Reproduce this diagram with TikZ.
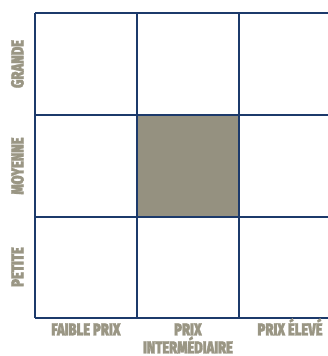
\documentclass[tikz,border=0pt]{standalone}
\usepackage{fontspec}
\newfontfamily\labfont{Fira Sans Black}[FakeStretch=0.74,FakeBold=1.5]
\definecolor{gridblue}{HTML}{1C3A6B}
\definecolor{cellgray}{HTML}{959180}
\definecolor{labgray}{HTML}{9A9684}
\begin{document}
\begin{tikzpicture}[x=1pt,y=1pt,
  gridline/.style={draw=gridblue,line width=1.3pt},
  lab/.style={text=labgray,font=\labfont\fontsize{17.5}{17.5}\selectfont,inner sep=0pt,anchor=base}]
\useasboundingbox (0,0) rectangle (328,356);
\fill[cellgray] (137,241) rectangle (239,139);
% horizontal lines
\foreach \y in {343,241,139,38} \draw[gridline] (35,\y) -- (328,\y);
% vertical lines
\foreach \x in {35,137,239} \draw[gridline] (\x,343) -- (\x,38);
% row labels
\node[lab,rotate=90] (grande) at (23.5,292) {GRANDE};
\node[lab,rotate=90] (moyenne) at (23.5,190) {MOYENNE};
\node[lab,rotate=90] (petite) at (23.5,89) {PETITE};
% column labels
\node[lab] (faible) at (86,20.5) {FAIBLE PRIX};
\node[lab] (prix) at (188,20.5) {PRIX};
\node[lab] (inter) at (188,2.5) {INTERMÉDIAIRE};
\node[lab] (eleve) at (290,20.5) {PRIX ÉLEVÉ};
\end{tikzpicture}
\end{document}
